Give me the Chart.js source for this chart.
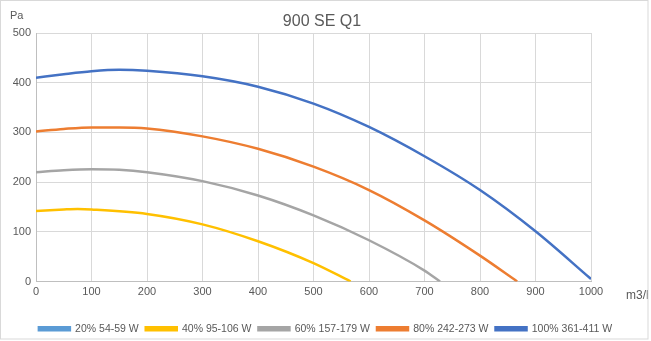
<!DOCTYPE html>
<html>
<head>
<meta charset="utf-8">
<script src="https://cdn.jsdelivr.net/npm/chart.js@4"></script>
<style>
  html, body { margin: 0; padding: 0; background: #fff; }
  #wrap { width: 651px; height: 341px; }
</style>
</head>
<body>
<div id="wrap"><canvas id="fanChart" width="651" height="341"></canvas></div>
<script>
// Curve data (x = m3/h, y = Pa)
const seriesNames = ['20% 54-59 W', '40% 95-106 W', '60% 157-179 W', '80% 242-273 W', '100% 361-411 W'];
const seriesColors = ['#5B9BD5', '#FFC000', '#A5A5A5', '#ED7D31', '#4472C4'];

const flow20 = [];
const pa20 = [];
const flow40 = [0, 50, 75, 100, 200, 300, 400, 500, 567];
const pa40 = [142, 145, 146, 145, 136, 115, 81, 37, 0];
const flow60 = [0, 50, 100, 150, 200, 300, 400, 500, 600, 700, 728];
const pa60 = [220, 224, 226, 225, 220, 202, 173, 133, 83, 22, 0];
const flow80 = [0, 50, 100, 150, 200, 300, 400, 500, 600, 700, 800, 867];
const pa80 = [302, 307, 310, 310, 308, 292, 267, 231, 184, 123, 52, 0];
const flow100 = [0, 50, 100, 150, 200, 300, 400, 500, 600, 700, 800, 900, 1000];
const pa100 = [410, 417, 423, 426, 424, 413, 392, 358, 311, 252, 184, 101, 5];

const flows = [flow20, flow40, flow60, flow80, flow100];
const pressures = [pa20, pa40, pa60, pa80, pa100];

const xTicks = [0, 100, 200, 300, 400, 500, 600, 700, 800, 900, 1000];
const yTicks = [0, 100, 200, 300, 400, 500];

const txtColor = '#595959';
const fontFam = '"Liberation Sans", Arial, sans-serif';

// Title, axis units and chart border like the Excel original
const decorations = {
  id: 'decorations',
  afterDraw(chart) {
    const ctx = chart.ctx;
    const area = chart.chartArea;
    ctx.save();
    ctx.fillStyle = txtColor;
    ctx.font = '16px ' + fontFam;
    ctx.textAlign = 'center';
    ctx.textBaseline = 'middle';
    ctx.fillText('900 SE Q1', 322, 22);

    ctx.font = '11px ' + fontFam;
    ctx.textAlign = 'left';
    ctx.fillText('Pa', 10, 16);

    ctx.save();
    ctx.beginPath();
    ctx.rect(0, 0, 648, 341);
    ctx.clip();
    ctx.font = '12px ' + fontFam;
    ctx.fillText('m3/h', 626, area.bottom + 14);
    ctx.restore();

    ctx.strokeStyle = '#d9d9d9';
    ctx.lineWidth = 1;
    ctx.strokeRect(0.5, 0.5, 647.5, 338.5);
    ctx.restore();
  }
};

const datasets = seriesNames.map((name, i) => ({
  label: name,
  data: flows[i].map((x, j) => ({ x: x, y: pressures[i][j] })),
  borderColor: seriesColors[i],
  backgroundColor: seriesColors[i],
  borderWidth: 2.5,
  pointRadius: 0,
  fill: false,
  tension: 0.4,
  cubicInterpolationMode: 'monotone'
}));

new Chart(document.getElementById('fanChart').getContext('2d'), {
  type: 'line',
  data: { datasets: datasets },
  options: {
    responsive: false,
    animation: false,
    layout: { padding: { top: 33, left: 0, right: 0, bottom: -3 } },
    plugins: {
      title: { display: false },
      tooltip: { enabled: false },
      legend: {
        position: 'bottom',
        labels: {
          color: txtColor,
          font: { family: fontFam, size: 10.5 },
          boxWidth: 31,
          boxHeight: 3,
          padding: 7
        }
      }
    },
    scales: {
      x: {
        type: 'linear',
        min: 0,
        max: 1000,
        afterBuildTicks: scale => { scale.ticks = xTicks.map(v => ({ value: v })); },
        afterFit: scale => { scale.height = 35; },
        grid: { color: '#d9d9d9', drawTicks: false },
        border: { color: '#bfbfbf' },
        ticks: {
          color: txtColor,
          font: { family: fontFam, size: 11 },
          padding: 4,
          maxRotation: 0,
          callback: v => String(v)
        }
      },
      y: {
        min: 0,
        max: 500,
        afterBuildTicks: scale => { scale.ticks = yTicks.map(v => ({ value: v })); },
        afterFit: scale => { scale.width = 36; },
        grid: { color: '#d9d9d9', drawTicks: false },
        border: { color: '#bfbfbf' },
        ticks: { color: txtColor, font: { family: fontFam, size: 11 }, padding: 5 }
      },
      // empty right-hand gutter, leaves room for the "m3/h" unit
      gutter: {
        type: 'linear',
        position: 'right',
        min: 0,
        max: 500,
        afterFit: scale => { scale.width = 60; },
        grid: { display: false },
        border: { display: false },
        ticks: { display: false }
      }
    }
  },
  plugins: [decorations]
});
</script>
</body>
</html>
